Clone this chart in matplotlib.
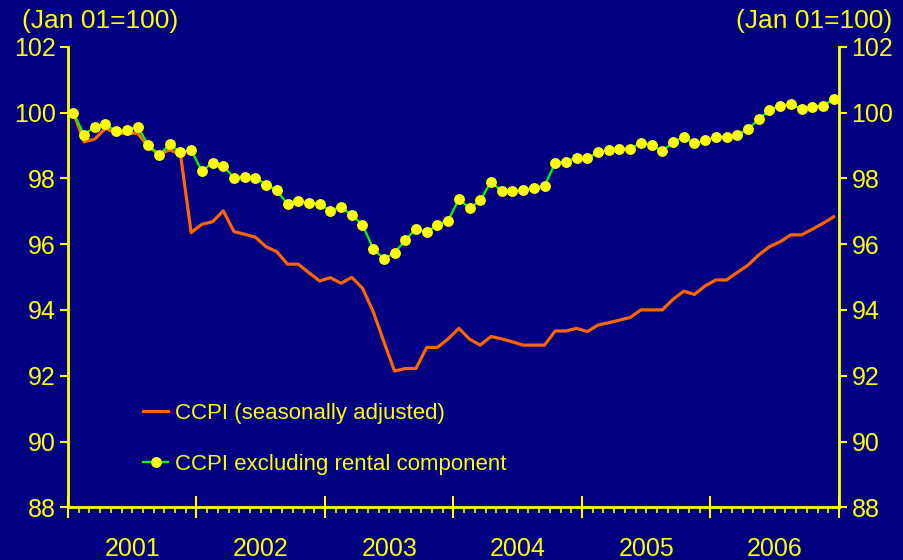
import matplotlib.pyplot as plt
import matplotlib.transforms as mtransforms
from matplotlib.ticker import FixedLocator

# monthly data, Jan 2001 - Dec 2006 (Jan 01 = 100)
years = ["2001", "2002", "2003", "2004", "2005", "2006"]

ccpi_sa = [
    100.00, 99.11, 99.19, 99.52, 99.37, 99.37, 99.37, 98.96, 98.74, 98.86, 98.74, 96.35,
    96.60, 96.68, 97.01, 96.38, 96.30, 96.21, 95.92, 95.77, 95.39, 95.39, 95.13, 94.88,
    94.98, 94.81, 94.99, 94.66, 93.95, 93.03, 92.14, 92.22, 92.22, 92.86, 92.86, 93.12,
    93.44, 93.11, 92.93, 93.19, 93.12, 93.03, 92.93, 92.93, 92.93, 93.36, 93.36, 93.44,
    93.34, 93.54, 93.61, 93.69, 93.77, 94.00, 94.00, 94.00, 94.32, 94.57, 94.47, 94.73,
    94.91, 94.91, 95.14, 95.36, 95.67, 95.92, 96.07, 96.28, 96.28, 96.45, 96.63, 96.83,
]

ccpi_ex_rent = [
    100.00, 99.32, 99.57, 99.64, 99.43, 99.47, 99.57, 99.01, 98.70, 99.03, 98.79, 98.86,
    98.22, 98.47, 98.38, 98.01, 98.04, 98.02, 97.81, 97.64, 97.21, 97.32, 97.25, 97.21,
    97.02, 97.13, 96.88, 96.59, 95.86, 95.55, 95.74, 96.12, 96.47, 96.36, 96.59, 96.71,
    97.37, 97.09, 97.33, 97.89, 97.61, 97.61, 97.64, 97.71, 97.77, 98.46, 98.51, 98.63,
    98.61, 98.79, 98.86, 98.90, 98.90, 99.08, 99.02, 98.83, 99.10, 99.26, 99.06, 99.15,
    99.26, 99.26, 99.31, 99.50, 99.79, 100.08, 100.21, 100.25, 100.11, 100.16, 100.21, 100.40,
]

navy = "#000080"
yellow = "#FFFF00"
orange = "#FF6600"
green = "#00FF00"

plt.rcParams["font.family"] = ["Liberation Sans", "DejaVu Sans"]

fig = plt.figure(figsize=(9.04, 5.6), dpi=100, facecolor=navy)
ax = fig.add_axes([68 / 904, 1 - 507.3 / 560, (839 - 68) / 904, (507.3 - 46.7) / 560])
ax.set_facecolor(navy)

months = list(range(len(ccpi_sa)))
ax.plot(months, ccpi_sa, color=orange, lw=2.3, label="CCPI (seasonally adjusted)", zorder=3)
ax.plot(months, ccpi_ex_rent, color=green, lw=1.6, marker="o", ms=6.8,
        mfc=yellow, mec=yellow, label="CCPI excluding rental component", zorder=4)

ax.set_xlim(-0.5, len(months) - 0.5)
ax.set_ylim(88, 102)
ax.set_yticks(range(88, 103, 2))

# year boundaries as major ticks, months as minor ticks
ax.xaxis.set_major_locator(FixedLocator([i * 12 - 0.5 for i in range(len(years) + 1)]))
ax.xaxis.set_minor_locator(FixedLocator([i - 0.5 for i in range(len(months) + 1)]))
ax.set_xticklabels([])
ax.tick_params(axis="x", which="major", direction="inout", length=16, width=1.5, color=yellow)
ax.tick_params(axis="x", which="minor", direction="out", length=4.5, width=1.2, color=yellow)

ax.tick_params(axis="y", which="both", direction="out", length=6, width=1.5, color=yellow,
               labelcolor=yellow, labelsize=18, left=True, right=True,
               labelleft=True, labelright=True, pad=3)

for side in ["left", "right", "bottom"]:
    ax.spines[side].set_color(yellow)
    ax.spines[side].set_linewidth(2)
ax.spines["top"].set_visible(False)

trans = mtransforms.blended_transform_factory(ax.transData, fig.transFigure)
for i, yr in enumerate(years):
    ax.text(i * 12 + 5.5, 1 - 549 / 560, yr, transform=trans, ha="center", va="center",
            color=yellow, fontsize=18)

fig.text(22 / 904, 1 - 21 / 560, "(Jan 01=100)", color=yellow, fontsize=19,
         ha="left", va="center")
fig.text(892 / 904, 1 - 21 / 560, "(Jan 01=100)", color=yellow, fontsize=19,
         ha="right", va="center")

leg = ax.legend(loc="upper left", bbox_to_anchor=(134 / 904, 1 - 394 / 560),
                bbox_transform=fig.transFigure, frameon=False, fontsize=16,
                labelcolor=yellow, handlelength=1.15, handletextpad=0.3,
                labelspacing=1.35, borderaxespad=0)

fig.savefig("out.png", dpi=100, facecolor=navy)
